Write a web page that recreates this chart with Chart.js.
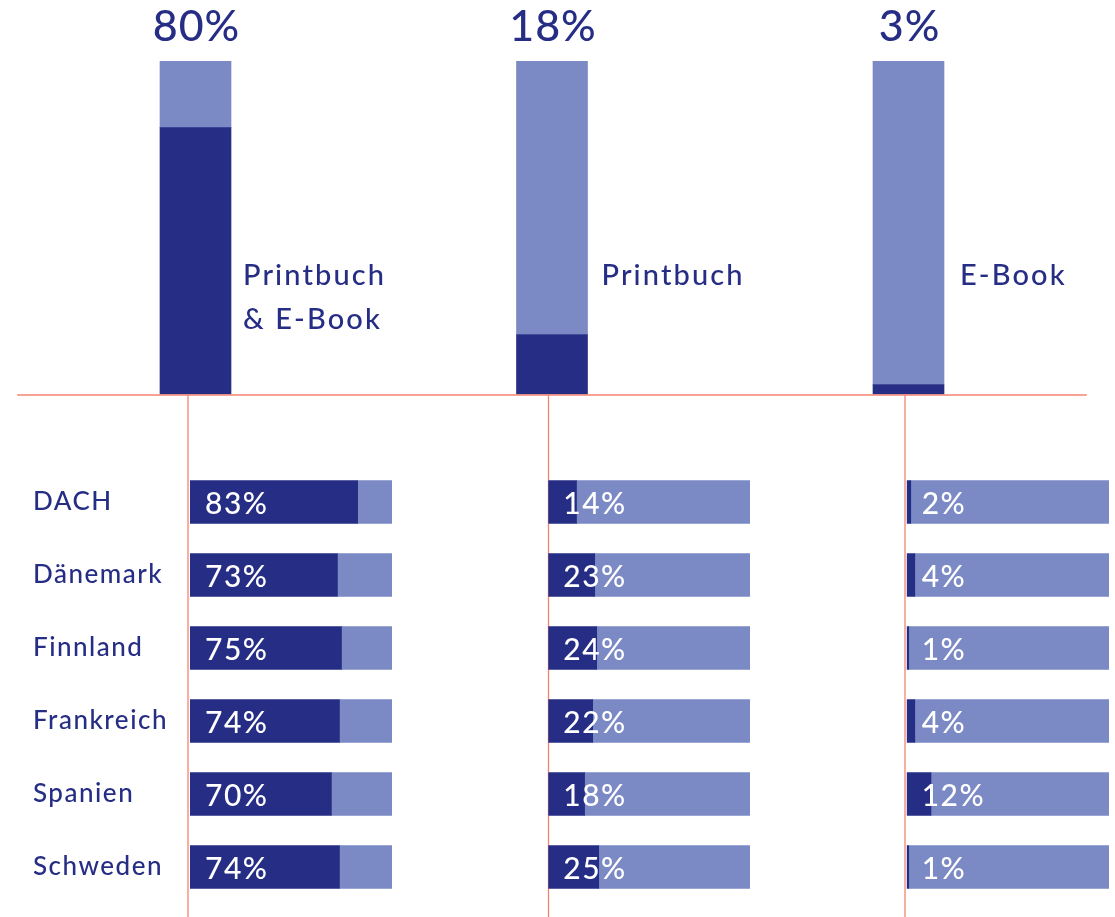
<!DOCTYPE html>
<html><head><meta charset="utf-8">
<script src="https://cdn.jsdelivr.net/npm/chart.js@4"></script>
<style>
html,body{margin:0;padding:0;background:#fff;}
#wrap{position:relative;width:1115px;height:917px;overflow:hidden;background:#fff;}
#wrap canvas{position:absolute;left:0;top:0;}
</style></head><body>
<div id="wrap">
<canvas id="top" width="1115" height="917"></canvas>
<canvas id="c1" width="1115" height="917"></canvas>
<canvas id="c2" width="1115" height="917"></canvas>
<canvas id="c3" width="1115" height="917"></canvas>
</div>
<script>
// ---- data ----
const topCategories = [['Printbuch', '& E-Book'], ['Printbuch'], ['E-Book']];
const topShares = [80, 18, 3];
const countries = ['DACH', 'Dänemark', 'Finnland', 'Frankreich', 'Spanien', 'Schweden'];
const bothShares = [83, 73, 75, 74, 70, 74];
const printShares = [14, 23, 24, 22, 18, 25];
const ebookShares = [2, 4, 1, 4, 12, 1];

// ---- styles ----
const DARK = '#262d85';
const LIGHT = '#7b89c4';
const NAVY = '#262d85';
const RED = '#f4836f';
const FONT = 'Lato, "Open Sans", sans-serif';
const W = '500 ';

const topPlugin = {
  id: 'topLabels',
  afterDatasetsDraw(chart) {
    const ctx = chart.ctx, area = chart.chartArea;
    const meta = chart.getDatasetMeta(0);
    ctx.save();
    ctx.strokeStyle = RED; ctx.lineWidth = 1.5;
    ctx.beginPath(); ctx.moveTo(area.left, area.bottom + 0.5); ctx.lineTo(area.right, area.bottom + 0.5); ctx.stroke();
    meta.data.forEach((bar, i) => {
      ctx.fillStyle = NAVY;
      ctx.textBaseline = 'alphabetic';
      ctx.font = W + '43px ' + FONT; ctx.textAlign = 'center'; ctx.letterSpacing = '1px';
      ctx.fillText(topShares[i] + '%', bar.x + 1, area.top - 20);
      ctx.font = W + '29px ' + FONT; ctx.textAlign = 'left'; ctx.letterSpacing = '2.1px';
      topCategories[i].forEach((line, j) => ctx.fillText(line, bar.x + bar.width / 2 + 12 + i * 2, 285 + j * 44));
    });
    ctx.restore();
  }
};

new Chart(document.getElementById('top'), {
  type: 'bar',
  data: {
    labels: topCategories.map(l => l.join(' ')),
    datasets: [
      { data: topShares, backgroundColor: DARK, barThickness: 71, borderWidth: 0 },
      { data: topShares.map(v => 100 - v), backgroundColor: LIGHT, barThickness: 71, borderWidth: 0 }
    ]
  },
  options: {
    responsive: false, animation: false, devicePixelRatio: 1,
    layout: { padding: { left: 17.25, right: 28.25, top: 61, bottom: 522.5 } },
    plugins: { legend: { display: false }, tooltip: { enabled: false } },
    scales: {
      x: { display: false, stacked: true },
      y: { display: false, stacked: true, min: 0, max: 100 }
    }
  },
  plugins: [topPlugin]
});

function bottomChart(id, values, left, right, guideX, showCountries) {
  const plugin = {
    id: 'bottomLabels' + id,
    beforeDatasetsDraw(chart) {
      const ctx = chart.ctx;
      ctx.save();
      ctx.strokeStyle = RED; ctx.lineWidth = 1.3;
      ctx.beginPath(); ctx.moveTo(guideX, 395); ctx.lineTo(guideX, 917); ctx.stroke();
      ctx.restore();
    },
    afterDatasetsDraw(chart) {
      const ctx = chart.ctx, area = chart.chartArea;
      const meta = chart.getDatasetMeta(0);
      ctx.save();
      ctx.textBaseline = 'alphabetic';
      meta.data.forEach((bar, i) => {
        ctx.fillStyle = '#ffffff';
        ctx.font = W + '30px ' + FONT; ctx.textAlign = 'left'; ctx.letterSpacing = '1.5px';
        ctx.fillText(values[i] + '%', area.left + 15, bar.y + 12);
        if (showCountries) {
          ctx.fillStyle = NAVY;
          ctx.font = W + '26px ' + FONT; ctx.letterSpacing = '1.5px';
          ctx.fillText(countries[i], 33, bar.y + 7.5);
        }
      });
      ctx.restore();
    }
  };
  new Chart(document.getElementById(id), {
    type: 'bar',
    data: {
      labels: countries,
      datasets: [
        { data: values, backgroundColor: DARK, barThickness: 43, borderWidth: 0 },
        { data: values.map(v => 100 - v), backgroundColor: LIGHT, barThickness: 43, borderWidth: 0 }
      ]
    },
    options: {
      indexAxis: 'y',
      responsive: false, animation: false, devicePixelRatio: 1,
      layout: { padding: { left: left, right: 1115 - right, top: 465.5, bottom: 13.5 } },
      plugins: { legend: { display: false }, tooltip: { enabled: false } },
      scales: {
        x: { display: false, stacked: true, min: 0, max: 100 },
        y: { display: false, stacked: true }
      }
    },
    plugins: [plugin]
  });
}

bottomChart('c1', bothShares, 190, 392, 188, true);
bottomChart('c2', printShares, 548.3, 750, 548.5, false);
bottomChart('c3', ebookShares, 906.7, 1109, 905, false);
</script>
</body></html>
